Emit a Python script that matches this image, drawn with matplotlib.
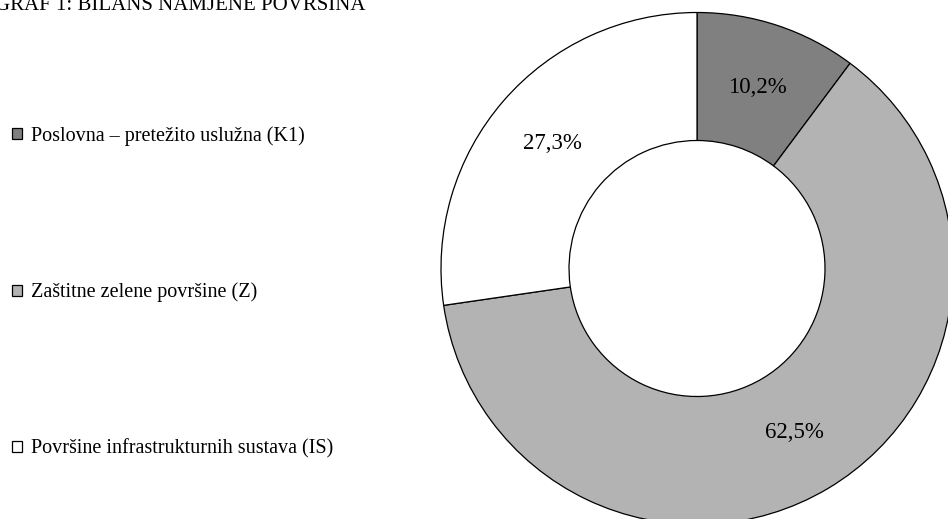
import matplotlib.pyplot as plt

plt.rcParams['font.family'] = ['Liberation Serif', 'DejaVu Serif']

# podaci
categories = ['Poslovna – pretežito uslužna (K1)',
              'Zaštitne zelene površine (Z)',
              'Površine infrastrukturnih sustava (IS)']
shares = [10.2, 62.5, 27.3]
colors = ['#808080', '#b3b3b3', '#ffffff']

W, H = 948, 519
fig = plt.figure(figsize=(W / 100, H / 100), dpi=100)

# os za prsten - centar (697, 268.5), radijus 256 px
cx, cy, r = 697, 268.5, 256
ax = fig.add_axes([(cx - r) / W, (H - cy - r) / H, 2 * r / W, 2 * r / H])
wedges, texts, autotexts = ax.pie(
    shares,
    colors=colors,
    startangle=90,
    counterclock=False,
    radius=1,
    pctdistance=0.745,
    autopct=lambda p: ('%.1f%%' % p).replace('.', ','),
    wedgeprops=dict(width=0.5, edgecolor='black', linewidth=0.9),
    textprops=dict(fontsize=16.5, color='black'),
)
ax.set_xlim(-1, 1)
ax.set_ylim(-1, 1)
ax.axis('off')

# legenda
fig.legend(wedges, categories, loc='upper left',
           bbox_to_anchor=(12 / W, 1 - 126 / H),
           frameon=False, fontsize=14.5,
           handlelength=0.5, handleheight=0.5, handletextpad=0.45,
           labelspacing=6.8, borderaxespad=0, borderpad=0)

fig.text(-5 / W, 1 - 9.5 / H, 'GRAF 1: BILANS NAMJENE POVRŠINA',
         fontsize=15, va='baseline', ha='left')

fig.savefig('out.png', dpi=100)
